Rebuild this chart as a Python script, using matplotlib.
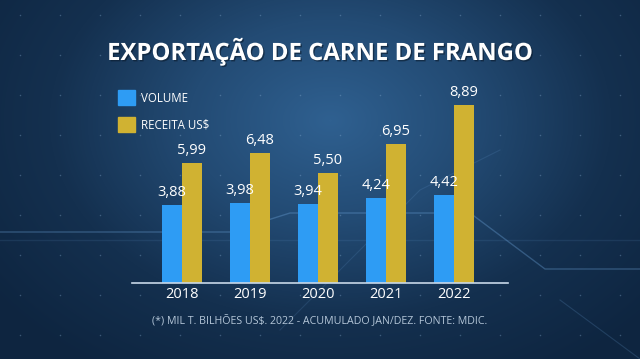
import numpy as np
import matplotlib.pyplot as plt
import matplotlib.patheffects as pe
from matplotlib.colors import LinearSegmentedColormap

anos = ['2018', '2019', '2020', '2021', '2022']
volume = [3.88, 3.98, 3.94, 4.24, 4.42]
receita = [5.99, 6.48, 5.50, 6.95, 8.89]

azul = '#2e9cf4'
amarelo = '#d0b232'

plt.rcParams['font.family'] = ['Open Sans', 'DejaVu Sans']

fig = plt.figure(figsize=(6.4, 3.59), dpi=100)

# fundo com gradiente radial
bg = fig.add_axes([0, 0, 1, 1])
bg.set_axis_off()
yy, xx = np.mgrid[0:359, 0:640]
d = np.sqrt(((xx - 330) / 420.0) ** 2 + ((yy - 120) / 300.0) ** 2)
cmap = LinearSegmentedColormap.from_list('fundo', ['#2f6090', '#234b74', '#14304f', '#0e2540'])
bg.imshow(np.clip(d, 0, 1), cmap=cmap, aspect='auto', extent=[0, 640, 359, 0])
# pontos da grade decorativa
gx, gy = np.meshgrid(np.arange(20, 640, 40), np.arange(15, 359, 40))
bg.scatter(gx.ravel(), gy.ravel(), s=1.2, color='#8fb4d8', alpha=0.35, lw=0)
# linhas decorativas
bg.plot([0, 230, 290, 470, 545, 640], [232, 232, 213, 213, 269, 269], color='#6fa6dc', alpha=0.35, lw=1)
bg.plot([0, 640], [240, 240], color='#6fa6dc', alpha=0.12, lw=1)
bg.plot([280, 420, 500], [330, 190, 150], color='#6fa6dc', alpha=0.15, lw=0.8)
bg.plot([560, 640], [300, 359], color='#6fa6dc', alpha=0.2, lw=0.8)
bg.set_xlim(0, 640)
bg.set_ylim(359, 0)

ax = fig.add_axes([132 / 640, 76 / 359, 376 / 640, 200 / 359])
ax.patch.set_alpha(0)
x = np.arange(len(anos))
w = 0.294
b1 = ax.bar(x - w / 2, volume, w, color=azul)
b2 = ax.bar(x + w / 2, receita, w, color=amarelo)
ax.set_xlim(-0.735, 4.794)
ax.set_ylim(0, 10)

sombra = [pe.withSimplePatchShadow(offset=(1, -1), shadow_rgbFace='#0a1a2c', alpha=0.6)]
for bars, vals in [(b1, volume), (b2, receita)]:
    for r, v in zip(bars, vals):
        ax.text(r.get_x() + r.get_width() / 2, v + 0.25, f'{v:.2f}'.replace('.', ','),
                ha='center', va='bottom', color='white', fontsize=10.5)

for s in ['top', 'right', 'left']:
    ax.spines[s].set_visible(False)
ax.spines['bottom'].set_color('#c8d8e8')
ax.spines['bottom'].set_linewidth(1.2)
ax.set_yticks([])
ax.set_xticks(x)
ax.set_xticklabels(anos, color='white', fontsize=10.5)
ax.tick_params(axis='x', length=0, pad=3)

fig.text(0.5, 1 - 52 / 359, 'EXPORTAÇÃO DE CARNE DE FRANGO', ha='center', va='center',
         color='white', fontsize=17.2, fontweight='bold', path_effects=sombra)

# legenda
fig.patches.append(plt.Rectangle((118 / 640, 1 - 105 / 359), 17 / 640, 15 / 359,
                                 transform=fig.transFigure, color=azul))
fig.patches.append(plt.Rectangle((118 / 640, 1 - 132 / 359), 17 / 640, 15 / 359,
                                 transform=fig.transFigure, color=amarelo))
fig.text(141 / 640, 1 - 98 / 359, 'VOLUME', color='white', fontsize=8.3, va='center')
fig.text(141 / 640, 1 - 125 / 359, 'RECEITA US$', color='white', fontsize=8.3, va='center')

fig.text(0.5, 1 - 321 / 359, '(*) MIL T. BILHÕES US$. 2022 - ACUMULADO JAN/DEZ. FONTE: MDIC.',
         ha='center', va='center', color='#b4c6d8', fontsize=7.7)

fig.savefig('out.png', dpi=100)
